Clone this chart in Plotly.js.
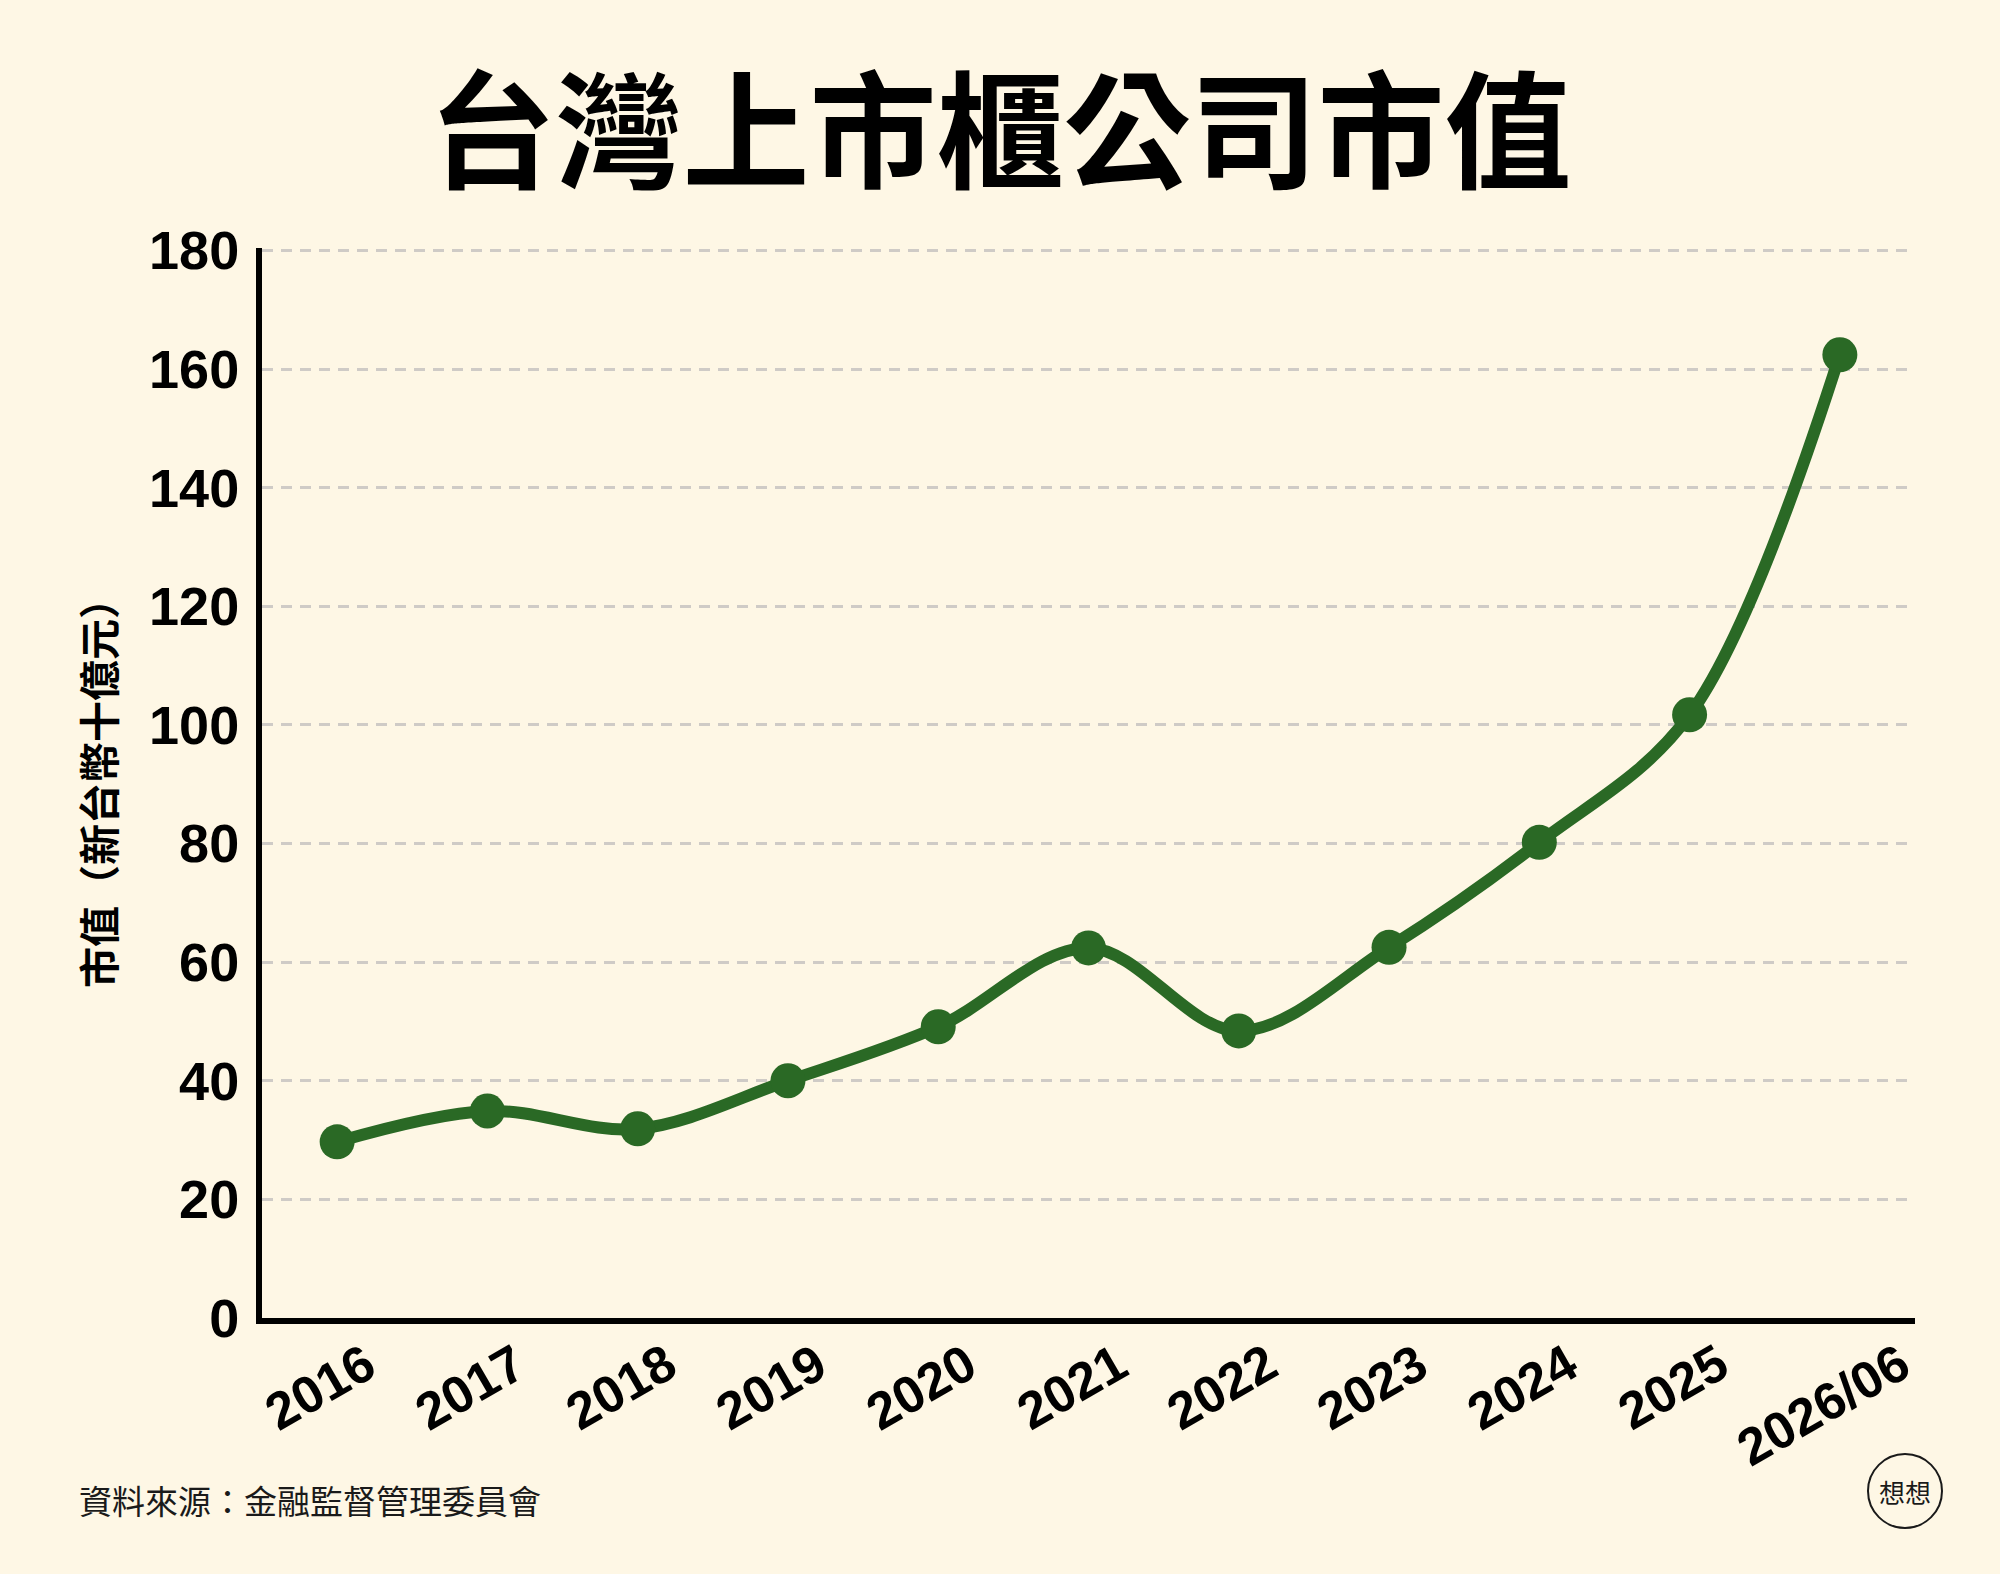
<!DOCTYPE html>
<html>
<head>
<meta charset="utf-8">
<script src="https://cdn.plot.ly/plotly-3.0.1.min.js"></script>
<style>
  html, body { margin: 0; padding: 0; background: #fef7e5; }
  #chart { width: 2000px; height: 1574px; }
</style>
</head>
<body>
<div id="chart"></div>
<script>
// ---- data ----
const categories = ['2016', '2017', '2018', '2019', '2020', '2021', '2022', '2023', '2024', '2025', '2026/06'];
const marketValue = [29.7, 34.9, 31.9, 40.0, 49.1, 62.4, 48.4, 62.5, 80.2, 101.7, 162.4];
const yTickValues = [0, 20, 40, 60, 80, 100, 120, 140, 160, 180];
const titleText = '台灣上市櫃公司市值';
const yTitleText = '市值（新台幣十億元）';
const sourceText = '資料來源：金融監督管理委員會';
const logoText = '想想';

// ---- layout geometry ----
const W = 2000, H = 1574;
const YMAX = 180.4;
const M = { l: 262, r: 85, t: 248, b: 256 };
const PW = W - M.l - M.r, PH = H - M.t - M.b;
const px2x = (px) => (px - M.l) / PW;
const px2y = (py) => (H - M.b - py) / PH;

const BG = '#fef7e5';
const GREEN = '#2a6925';
const SANS = 'Liberation Sans, Arial, Helvetica, sans-serif';
const CJK = 'Noto Sans CJK TC, Noto Sans CJK SC, sans-serif';

const trace = {
  x: categories,
  y: marketValue,
  type: 'scatter',
  mode: 'lines+markers',
  line: { color: GREEN, width: 12, shape: 'spline', smoothing: 1 },
  marker: { color: GREEN, size: 35 },
  hoverinfo: 'x+y',
  cliponaxis: false
};

// rotated category labels, placed on the category axis by index
const annotations = categories.map((c, i) => ({
  x: i, xref: 'x',
  y: px2y(1330), yref: 'paper',
  xanchor: 'center', yanchor: 'top',
  xshift: -17,
  text: c,
  textangle: -30,
  showarrow: false,
  font: { family: SANS, size: 52, color: '#000', weight: 'bold' }
}));

annotations.push({
  x: px2x(77), xref: 'paper',
  y: px2y(1500), yref: 'paper',
  xanchor: 'left', yanchor: 'middle',
  text: sourceText,
  showarrow: false,
  font: { family: CJK, size: 33, color: '#1a1a1a' }
});

annotations.push({
  x: px2x(1905), xref: 'paper',
  y: px2y(1491), yref: 'paper',
  xanchor: 'center', yanchor: 'middle',
  text: logoText,
  showarrow: false,
  font: { family: CJK, size: 26, color: '#1a1a1a' }
});

const layout = {
  width: W, height: H,
  paper_bgcolor: BG,
  plot_bgcolor: BG,
  margin: M,
  showlegend: false,
  title: {
    text: titleText,
    xref: 'container', x: 0.5, xanchor: 'center',
    yref: 'container', y: 1 - 135 / H, yanchor: 'middle',
    font: { family: CJK, size: 127, color: '#000', weight: 'bold' }
  },
  xaxis: {
    type: 'category',
    range: [-0.5, categories.length - 0.5],
    showgrid: false,
    zeroline: false,
    showline: true,
    linecolor: '#000',
    linewidth: 6,
    ticks: '',
    showticklabels: false,
    fixedrange: true
  },
  yaxis: {
    range: [0, YMAX],
    tickvals: yTickValues,
    ticktext: yTickValues.map(String),
    showgrid: true,
    gridcolor: '#cfcbc6',
    gridwidth: 3,
    griddash: '11px,8px',
    zeroline: false,
    showline: true,
    linecolor: '#000',
    linewidth: 6,
    ticks: '',
    ticklabelstandoff: 6,
    tickfont: { family: SANS, size: 54, color: '#000', weight: 'bold' },
    title: {
      text: yTitleText,
      standoff: 23,
      font: { family: CJK, size: 41, color: '#000', weight: 'bold' }
    },
    fixedrange: true
  },
  annotations: annotations,
  shapes: [{
    type: 'circle',
    xref: 'paper', yref: 'paper',
    x0: px2x(1905 - 37), x1: px2x(1905 + 37),
    y0: px2y(1491 + 37), y1: px2y(1491 - 37),
    line: { color: '#1a1a1a', width: 2 }
  }]
};

Plotly.newPlot('chart', [trace], layout, { displayModeBar: false });
</script>
</body>
</html>
